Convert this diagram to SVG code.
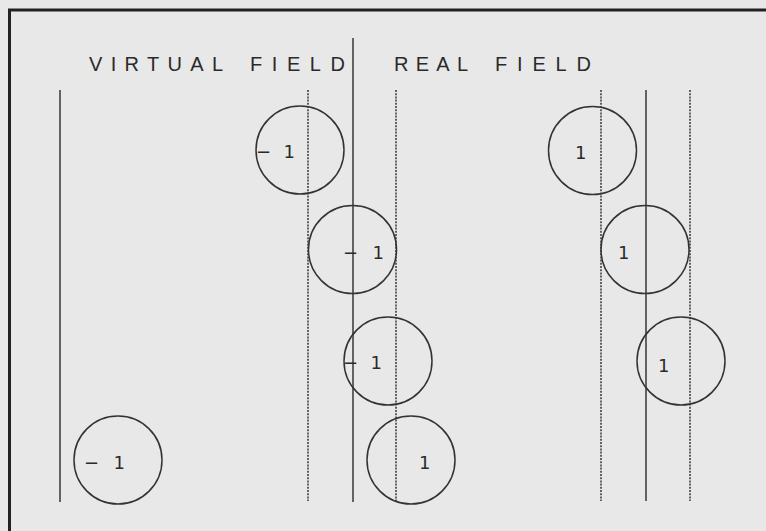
<svg xmlns="http://www.w3.org/2000/svg" width="766" height="531" viewBox="0 0 766 531">
<style>
.bg{fill:#e8e8e8}
.frame{fill:none;stroke:#222;stroke-width:3}
.solid{stroke:#2a2a2a;stroke-width:1.4;fill:none}
.dash{stroke:#2a2a2a;stroke-width:1.4;stroke-dasharray:2 1.2;fill:none}
.c{fill:none;stroke:#333;stroke-width:1.5}
.t{font-family:"Liberation Sans",Arial,sans-serif;fill:#2a2a2a}
.title{font-size:20px}
.lbl{font-family:"DejaVu Sans",sans-serif;font-size:18px}
</style>
<rect class="bg" x="0" y="0" width="766" height="531"/>
<path class="frame" d="M9.5,531 V10 H766"/>
<g id="titles">
<text class="t title" x="89" y="71" textLength="134" lengthAdjust="spacing">VIRTUAL</text>
<text class="t title" x="250" y="71" textLength="95" lengthAdjust="spacing">FIELD</text>
<text class="t title" x="394" y="71" textLength="74" lengthAdjust="spacing">REAL</text>
<text class="t title" x="495" y="71" textLength="96" lengthAdjust="spacing">FIELD</text>
</g>
<g id="lines">
<line class="solid" x1="60" y1="90" x2="60" y2="502"/>
<line class="solid" x1="353" y1="38" x2="353" y2="502"/>
<line class="solid" x1="646" y1="90" x2="646" y2="501"/>
<line class="dash" x1="308" y1="90" x2="308" y2="501"/>
<line class="dash" x1="396" y1="90" x2="396" y2="501"/>
<line class="dash" x1="601" y1="90" x2="601" y2="501"/>
<line class="dash" x1="690" y1="90" x2="690" y2="501"/>
</g>
<g id="v1"><circle class="c" cx="300" cy="150" r="44"/><text class="t lbl" x="256" y="158" textLength="39" lengthAdjust="spacing">−1</text></g>
<g id="v2"><circle class="c" cx="352.5" cy="249.5" r="44"/><text class="t lbl" x="343" y="259" textLength="41" lengthAdjust="spacing">−1</text></g>
<g id="v3"><circle class="c" cx="388" cy="361" r="44"/><text class="t lbl" x="343" y="369" textLength="39" lengthAdjust="spacing">−1</text></g>
<g id="v4"><circle class="c" cx="118" cy="460" r="44"/><text class="t lbl" x="84" y="469" textLength="41" lengthAdjust="spacing">−1</text></g>
<g id="r1"><circle class="c" cx="411" cy="460" r="44"/><text class="t lbl" x="419" y="469">1</text></g>
<g id="r2"><circle class="c" cx="592.5" cy="150.5" r="44"/><text class="t lbl" x="575" y="159">1</text></g>
<g id="r3"><circle class="c" cx="645" cy="249.5" r="44"/><text class="t lbl" x="618" y="259">1</text></g>
<g id="r4"><circle class="c" cx="681" cy="361" r="44"/><text class="t lbl" x="658" y="372">1</text></g>
</svg>
